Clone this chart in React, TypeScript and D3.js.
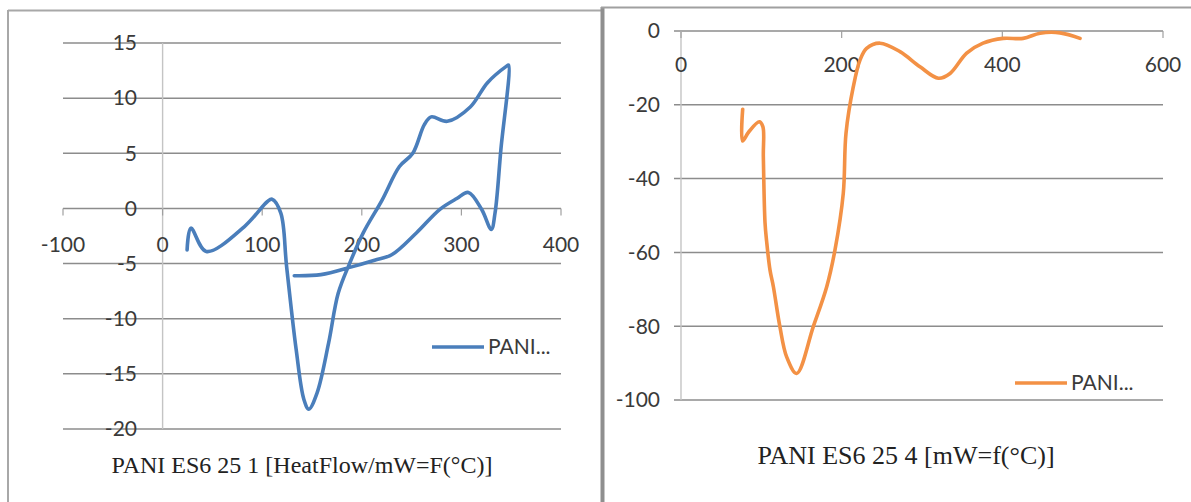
import React from "react";
import * as d3 from "d3";

// Left chart: PANI ES6 25 1 (HeatFlow mW vs °C)
const leftTemp = [24.6, 28.4, 43.8, 82.2, 105.3, 109.9, 118.7, 124.5, 134.1, 141.8, 146.8, 155.2, 166.7, 176.3, 187.9, 201.3, 220.5, 237.8, 251.2, 262.8, 269.7, 285.8, 308.9, 326.2, 345.4, 347.3, 339.6, 333.8, 330, 320.4, 307, 295.4, 278.1, 255, 230, 212.8, 189.8, 159, 132.2];
const leftFlow = [-3.76, -1.79, -3.9, -1.64, 0.63, 0.84, -0.43, -5.26, -12.8, -17.3, -18.2, -16.7, -12.2, -7.7, -4.96, -2.24, 0.78, 3.8, 5.0, 7.6, 8.3, 7.9, 9.2, 11.4, 12.9, 13.0, 5.3, -0.4, -1.9, -0.1, 1.45, 0.9, -0.1, -2.2, -4.2, -4.7, -5.3, -6.0, -6.1];
const leftXTicks = [-100, 0, 100, 200, 300, 400];
const leftYTicks = [15, 10, 5, 0, -5, -10, -15, -20];

// Right chart: PANI ES6 25 4 (mW vs °C)
const rightTemp = [76.8, 76.6, 84.5, 97.5, 101.9, 102.5, 104.6, 106.6, 110.8, 115, 123, 131.5, 144, 164.7, 181.4, 191.7, 202, 205.4, 214.5, 222.8, 231, 247.7, 272.6, 297.5, 320.4, 334.9, 355.6, 376, 401, 426, 447, 471.8, 496.7];
const rightFlow = [-21.2, -29.8, -27.3, -24.6, -25.9, -34, -52, -57, -64.8, -69.3, -80, -88.3, -92.8, -80.1, -69.3, -59.3, -44, -27.7, -15.1, -7.9, -4.7, -3.3, -5.6, -9.7, -12.8, -11.5, -6.0, -3.3, -2.0, -2.0, -0.6, -0.5, -2.0];
const rightXTicks = [0, 200, 400, 600];
const rightYTicks = [0, -20, -40, -60, -80, -100];

const seriesName = "PANI...";
const leftTitle = "PANI ES6 25 1 [HeatFlow/mW=F(°C)]";
const rightTitle = "PANI ES6 25 4 [mW=f(°C)]";

const labelFont = "Lato, 'Liberation Sans', sans-serif";
const titleFont = "'Liberation Serif', 'Times New Roman', serif";

type PanelProps = {
  xs: number[];
  ys: number[];
  xDomain: [number, number];
  yDomain: [number, number];
  xRange: [number, number];
  yRange: [number, number];
  xTicks: number[];
  yTicks: number[];
  gridLeft: number;
  yLabelRight: number;
  xLabelOffset: number;
  color: string;
  title: string;
  titleX: number;
  titleY: number;
  titleSize: number;
  legendX: number;
  legendY: number;
};

function Panel(p: PanelProps) {
  const x = d3.scaleLinear().domain(p.xDomain).range(p.xRange);
  const y = d3.scaleLinear().domain(p.yDomain).range(p.yRange);
  const pts: [number, number][] = p.xs.map((v, i) => [x(v), y(p.ys[i])]);
  const line = d3.line().curve(d3.curveCatmullRom.alpha(0.5))(pts) || "";
  const axisY = y(0);
  const axisX = x(0);
  const [yTop, yBot] = [y(p.yDomain[1]), y(p.yDomain[0])];
  return (
    <g>
      {p.yTicks.map((t) => (
        <line key={"g" + t} x1={p.gridLeft} x2={p.xRange[1]} y1={y(t)} y2={y(t)} stroke="#8c8c8c" strokeWidth={1.5} />
      ))}
      <line x1={axisX} x2={axisX} y1={yTop} y2={yBot} stroke="#c4c4c4" strokeWidth={1.4} />
      {p.xTicks.map((t) => (
        <line key={"t" + t} x1={x(t)} x2={x(t)} y1={axisY} y2={axisY + 7} stroke="#a0a0a0" strokeWidth={1.2} />
      ))}
      {p.yTicks.map((t) => (
        <text key={"yl" + t} x={p.yLabelRight} y={y(t)} dy="0.35em" textAnchor="end" fontFamily={labelFont} fontSize={21} fill="#3a3a3a">
          {t}
        </text>
      ))}
      {p.xTicks.map((t) => (
        <text key={"xl" + t} x={x(t)} y={axisY + p.xLabelOffset} dy="0.35em" textAnchor="middle" fontFamily={labelFont} fontSize={21} fill="#3a3a3a">
          {t}
        </text>
      ))}
      <path d={line} fill="none" stroke={p.color} strokeWidth={3.6} strokeLinejoin="round" strokeLinecap="round" />
      <line x1={p.legendX} x2={p.legendX + 52} y1={p.legendY} y2={p.legendY} stroke={p.color} strokeWidth={3.6} />
      <text x={p.legendX + 56} y={p.legendY} dy="0.35em" fontFamily={labelFont} fontSize={21} fill="#3a3a3a">
        {seriesName}
      </text>
      <text x={p.titleX} y={p.titleY} dy="0.35em" textAnchor="middle" fontFamily={titleFont} fontSize={p.titleSize} fill="#222">
        {p.title}
      </text>
    </g>
  );
}

export default function App() {
  return (
    <svg width={1191} height={502} style={{ position: "absolute", left: 0, top: 0, background: "#fff" }}>
      <rect x={0} y={0} width={1191} height={502} fill="#fff" />
      {/* panel borders */}
      <line x1={8} x2={8} y1={10} y2={502} stroke="#a8a8a8" strokeWidth={2} />
      <line x1={8} x2={601} y1={10.5} y2={10.5} stroke="#a8a8a8" strokeWidth={2} />
      <line x1={602.5} x2={602.5} y1={7} y2={502} stroke="#8f8f8f" strokeWidth={4} />
      <line x1={601} x2={1191} y1={7.5} y2={7.5} stroke="#a0a0a0" strokeWidth={2} />
      <Panel
        xs={leftTemp}
        ys={leftFlow}
        xDomain={[-100, 400]}
        yDomain={[-20, 15]}
        xRange={[63, 561]}
        yRange={[429, 43]}
        xTicks={leftXTicks}
        yTicks={leftYTicks}
        gridLeft={63}
        yLabelRight={137}
        xLabelOffset={36}
        color="#4a7ebb"
        title={leftTitle}
        titleX={302}
        titleY={465}
        titleSize={24}
        legendX={432}
        legendY={347}
      />
      <Panel
        xs={rightTemp}
        ys={rightFlow}
        xDomain={[0, 600]}
        yDomain={[-100, 0]}
        xRange={[681, 1163]}
        yRange={[400, 31]}
        xTicks={rightXTicks}
        yTicks={rightYTicks}
        gridLeft={674}
        yLabelRight={660}
        xLabelOffset={34}
        color="#f39145"
        title={rightTitle}
        titleX={906}
        titleY={455}
        titleSize={26}
        legendX={1015}
        legendY={383}
      />
    </svg>
  );
}
